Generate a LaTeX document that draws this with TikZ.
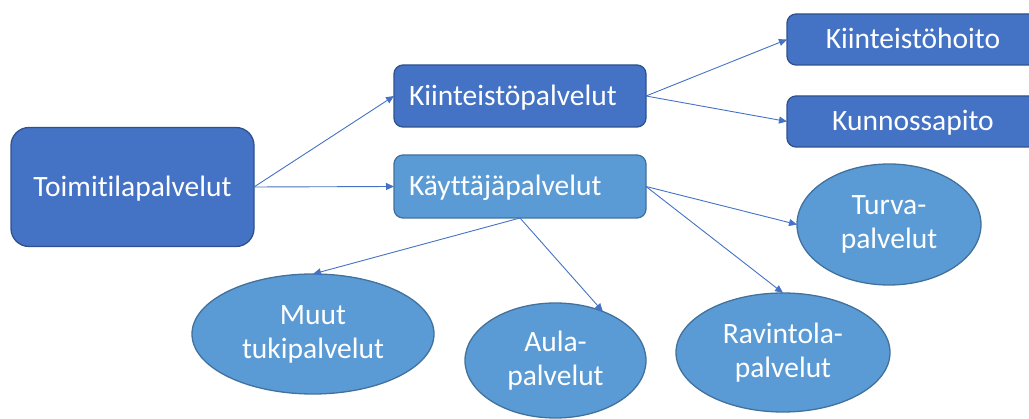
\documentclass[tikz,border=0pt]{standalone}
\usepackage{fontspec}
\setmainfont[Ligatures=NoCommon]{Carlito}
\usetikzlibrary{shapes.geometric,arrows.meta}
\definecolor{darkblue}{HTML}{4472C4}
\definecolor{lightblue}{HTML}{5B9BD5}
\definecolor{darkline}{HTML}{2F528F}
\definecolor{lightline}{HTML}{41719C}
\tikzset{
  txt/.style={text=white, font=\fontsize{29.5}{34}\selectfont},
  darkbox/.style={txt, rectangle, rounded corners=9pt, fill=darkblue, draw=darkline, line width=1.3pt, outer sep=0pt, text height=21pt, text depth=2pt},
  lightbox/.style={darkbox, fill=lightblue, draw=lightline},
  oval/.style={txt, ellipse, fill=lightblue, draw=lightline, line width=1.3pt, outer sep=0pt, align=center, inner sep=0pt},
  conn/.style={draw=darkblue, line width=0.9pt, -{Triangle[length=8pt,width=7pt]}}
}
\begin{document}
\begin{tikzpicture}[x=1pt,y=-1pt]
\useasboundingbox (0,0) rectangle (1029,419);
\clip (0,0) rectangle (1029,419);
\node[darkbox, rounded corners=18pt, minimum width=243pt, minimum height=119pt, inner sep=0pt] (toimi) at (132.5,187) {Toimitilapalvelut};
\node[darkbox, text width=222pt, inner xsep=15pt, inner ysep=0pt, minimum height=62pt, align=left] (kiint) at (520,96) {Kiinteistöpalvelut};
\node[lightbox, text width=222pt, inner xsep=15pt, inner ysep=0pt, minimum height=63pt, align=left] (kayt) at (520,186.5) {Käyttäjäpalvelut};
\node[darkbox, minimum width=252pt, minimum height=51pt, inner sep=0pt] (hoito) at (913,39.5) {Kiinteistöhoito};
\node[darkbox, minimum width=252pt, minimum height=51pt, inner sep=0pt] (kunno) at (913,121.5) {Kunnossapito};
\node[oval, minimum width=242pt, minimum height=120pt] (muut) at (313,334) {Muut\\tukipalvelut};
\node[oval, minimum width=181pt, minimum height=115pt] (aula) at (555.5,360.5) {Aula-\\palvelut};
\node[oval, minimum width=184pt, minimum height=121pt] (turva) at (889,224.5) {Turva-\\palvelut};
\node[oval, minimum width=214pt, minimum height=119pt] (ravin) at (783,352.5) {Ravintola-\\palvelut};
\draw[conn] (toimi.east) -- (kiint.west);
\draw[conn] (toimi.east) -- (kayt.west);
\draw[conn] (kiint.east) -- (hoito.west);
\draw[conn] (kiint.east) -- (kunno.west);
\draw[conn] (kayt.east) -- (turva.west);
\draw[conn] (kayt.east) -- (ravin.north);
\draw[conn] (kayt.south) -- (muut.north);
\draw[conn] (kayt.south) -- (aula.46);
\end{tikzpicture}
\end{document}
